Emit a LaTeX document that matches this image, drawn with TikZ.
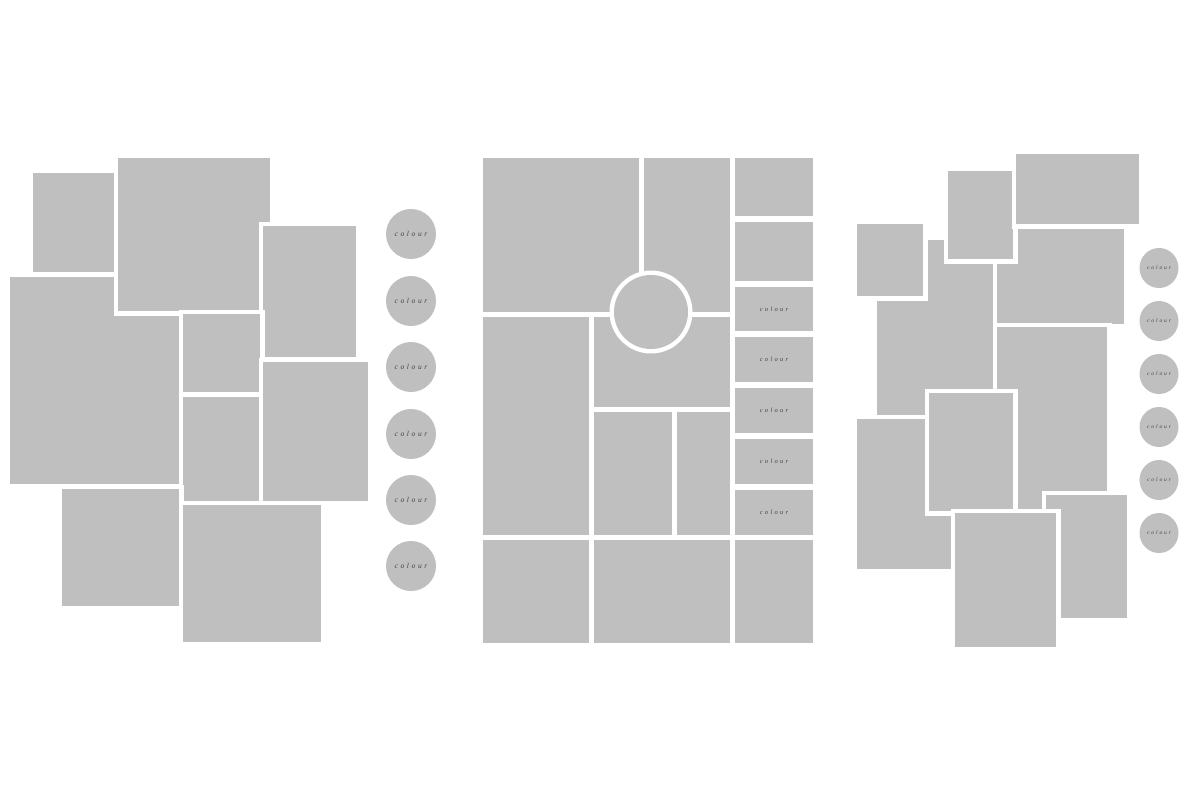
\documentclass[tikz,border=0pt]{standalone}
\usepackage{fontspec}
\setmainfont{Liberation Serif}
\newfontfamily\scriptface[LetterSpace=35]{Liberation Serif Italic}
\usetikzlibrary{shapes.geometric}
\definecolor{boxgrey}{HTML}{BFBFBF}
\definecolor{inkgrey}{HTML}{444444}
\tikzset{
  box/.style={rectangle, inner sep=0pt, outer sep=0pt, fill=boxgrey,
    preaction={draw=white, line width=9pt}},
  dot/.style={circle, inner sep=0pt, outer sep=0pt, fill=boxgrey,
    minimum size=50pt, font=\scriptface\fontsize{7.5}{8}\selectfont, text=inkgrey},
  smalldot/.style={ellipse, inner sep=0pt, outer sep=0pt, fill=boxgrey,
    minimum width=39pt, minimum height=40pt, font=\scriptface\fontsize{5.5}{6}\selectfont, text=inkgrey},
  ring/.style={circle, inner sep=0pt, outer sep=0pt, fill=boxgrey,
    minimum size=74pt, preaction={draw=white, line width=9pt}},
  lbl/.style={font=\scriptface\fontsize{6.5}{7}\selectfont, text=inkgrey}
}
\newcommand{\bx}[5]{\node[box, minimum width={(#4-#2)*1pt}, minimum height={(#5-#3)*1pt}] (#1) at ({(#2+#4)/2},{(#3+#5)/2}) {};}
\begin{document}
\begin{tikzpicture}[x=1pt,y=-1pt]
\useasboundingbox[fill=white] (0,0) rectangle (1200,800);
% ---------- left panel ----------
\bx{LfBig}{10}{277}{179}{484}
\bx{LfTopA}{33}{173}{114}{272}
\bx{LfTopB}{118}{158}{270}{311}
\bx{LfRtA}{263}{226}{356}{357}
\bx{LfMidA}{183}{314}{260}{392}
\bx{LfMidB}{183}{397}{260}{501}
\bx{LfRtB}{263}{362}{368}{501}
\bx{LfBotA}{62}{489}{179}{606}
\bx{LfBotB}{183}{505}{321}{642}
\foreach \yy [count=\i] in {234,301,367,434,500,566}
  \node[dot] (LfDot\i) at (411,\yy) {colour};
% ---------- middle panel ----------
\bx{MdTopA}{483}{158}{639}{312}
\bx{MdTopB}{644}{158}{730}{312}
\bx{MdLeft}{483}{317}{589}{535}
\bx{MdCentre}{594}{317}{730}{407}
\bx{MdLowA}{594}{412}{672}{535}
\bx{MdLowB}{677}{412}{730}{535}
\bx{MdBotA}{483}{540}{589}{643}
\bx{MdBotB}{594}{540}{730}{643}
\bx{MdBotC}{735}{540}{813}{643}
\bx{MdColA}{735}{158}{813}{216}
\bx{MdColB}{735}{222}{813}{281}
\bx{MdColC}{735}{287}{813}{331}
\bx{MdColD}{735}{337}{813}{382}
\bx{MdColE}{735}{388}{813}{433}
\bx{MdColF}{735}{439}{813}{484}
\bx{MdColG}{735}{490}{813}{535}
\foreach \nm in {MdColC,MdColD,MdColE,MdColF,MdColG}
  \node[lbl] at (\nm.center) {colour};
\node[ring] (MdRing) at (651,312) {};
% ---------- right panel ----------
\bx{RtTallB}{877}{240}{994}{415}
\bx{RtSqA}{857}{224}{923}{296}
\bx{RtWideE}{997}{227}{1124}{324}
\bx{RtTopC}{948}{171}{1013}{259}
\bx{RtTopD}{1016}{154}{1139}{224}
\bx{RtTallF}{997}{327}{1107}{512}
\bx{RtLowJ}{857}{419}{952}{569}
\bx{RtMidG}{929}{393}{1013}{511}
\bx{RtBotI}{1046}{495}{1127}{618}
\bx{RtBotH}{955}{513}{1056}{647}
\foreach \yy [count=\i] in {268,321,374,427,480,533}
  \node[smalldot] (RtDot\i) at (1159,\yy) {colour};
\end{tikzpicture}
\end{document}
